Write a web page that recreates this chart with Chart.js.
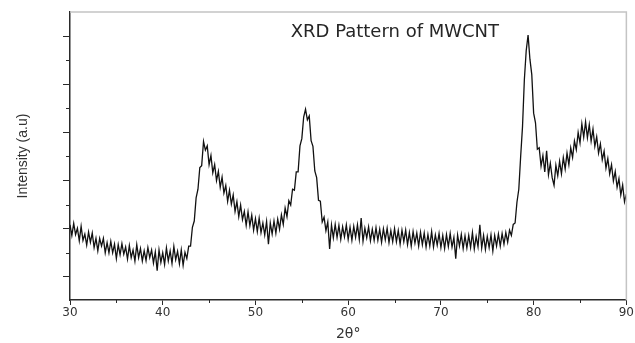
<!DOCTYPE html>
<html>
<head>
<meta charset="utf-8">
<script src="https://cdn.jsdelivr.net/npm/chart.js@4/dist/chart.umd.min.js"></script>
<style>
  html, body { margin: 0; padding: 0; background: #ffffff; }
  #wrap { width: 635px; height: 343px; }
</style>
</head>
<body>
<div id="wrap"><canvas id="c" width="635" height="343"></canvas></div>
<script>
// ---- data ----
const chartTitle = "XRD Pattern of MWCNT";
const xAxisTitle = "2θ°";
const yAxisTitle = "Intensity (a.u)";

// measurement grid: 2θ from 30° to 90° in 0.2° steps
const startAngle = 30;
const angleStep = 0.2;

// intensity (arbitrary units), one value per 0.2° step, 30.0° … 90.0°
const intensity = [
  108,86,111,88,101,75,105,76,89,66,      // 30.0–31.8
  93,72,91,61,80,54,80,64,80,50,          // 32.0–33.8
  71,50,74,50,68,38,67,46,69,47,          // 34.0–35.8
  62,37,65,40,56,33,67,40,59,33,          // 36.0–37.8
  54,34,61,40,56,29,52,13,56,30,          // 38.0–39.8
  50,26,60,33,54,28,63,36,53,27,          // 40.0–41.8
  56,24,51,38,64,64,103,116,164,182,      // 42.0–43.8
  227,231,281,263,272,233,252,216,233,200,// 44.0–45.8
  219,186,207,174,190,157,180,151,170,136,// 46.0–47.8
  156,125,149,119,136,107,135,106,128,97, // 48.0–49.8
  121,94,122,92,112,87,115,68,112,89,     // 50.0–51.8
  116,91,120,99,129,109,143,125,158,149,  // 52.0–53.8
  182,180,218,218,272,287,332,348,326,334,// 54.0–55.8
  283,271,220,206,159,157,114,124,96,114, // 56.0–57.8
  58,108,81,109,82,107,78,104,83,108,     // 58.0–59.8
  78,103,76,105,82,108,78,122,74,101,     // 60.0–61.8
  81,104,75,99,76,102,76,99,72,100,       // 62.0–63.8
  77,101,71,96,73,100,73,96,68,97,        // 64.0–65.8
  73,97,67,92,64,94,70,91,64,93,          // 66.0–67.8
  67,91,62,88,64,94,62,87,66,90,          // 68.0–69.8
  61,86,59,88,63,90,62,82,38,87,          // 70.0–71.8
  64,88,59,85,60,86,61,92,58,84,          // 72.0–73.8
  63,108,60,86,57,84,61,87,54,86,         // 74.0–75.8
  64,89,64,90,68,92,72,97,86,109,         // 76.0–77.8
  112,155,182,250,312,410,470,502,452,420,// 78.0–79.8
  340,320,265,268,230,252,218,262,212,236,// 80.0–81.8
  206,190,232,210,240,214,248,224,257,233,// 82.0–83.8
  268,248,282,264,300,278,318,290,322,289,// 84.0–85.8
  316,282,307,271,291,257,276,243,261,226,// 86.0–87.8
  246,214,233,199,219,186,204,170,191,156,// 88.0–89.8
  172                                      // 90.0
];

// axis ticks
const xMajorTicks = [30, 40, 50, 60, 70, 80, 90];
const xMinorTicks = [35, 45, 55, 65, 75, 85];
const yMajorTicks = [0, 100, 200, 300, 400, 500];
const yMinorTicks = [50, 150, 250, 350, 450];
const xRange = [30, 90];
const yRange = [-48, 550];

// ---- build points ----
const points = intensity.map((v, i) => ({ x: +(startAngle + i * angleStep).toFixed(1), y: v }));

const AXIS_COLOR = '#2a2a2a';
const TEXT_COLOR = '#333333';

const decorPlugin = {
  id: 'decor',
  afterDraw(chart) {
    const { ctx, chartArea: a, scales } = chart;
    ctx.save();
    // light frame on top and right
    ctx.strokeStyle = '#c4c4c4';
    ctx.lineWidth = 1.5;
    ctx.beginPath();
    ctx.moveTo(a.left, a.top);
    ctx.lineTo(a.right, a.top);
    ctx.lineTo(a.right, a.bottom);
    ctx.stroke();
    // minor tick marks
    ctx.strokeStyle = AXIS_COLOR;
    ctx.lineWidth = 1;
    ctx.beginPath();
    xMinorTicks.forEach(v => {
      const px = Math.round(scales.x.getPixelForValue(v)) + 0.5;
      ctx.moveTo(px, a.bottom);
      ctx.lineTo(px, a.bottom + 3);
    });
    yMinorTicks.forEach(v => {
      const py = Math.round(scales.y.getPixelForValue(v)) + 0.5;
      ctx.moveTo(a.left - 4, py);
      ctx.lineTo(a.left, py);
    });
    ctx.stroke();
    // title inside plot
    ctx.fillStyle = '#262626';
    ctx.font = '18px "DejaVu Sans", sans-serif';
    ctx.textAlign = 'center';
    ctx.textBaseline = 'middle';
    const tx = a.left + (a.right - a.left) * 0.584;
    const ty = a.top + (a.bottom - a.top) * 0.07;
    ctx.fillText(chartTitle, tx, ty);
    ctx.restore();
  }
};

new Chart(document.getElementById('c'), {
  type: 'line',
  data: {
    datasets: [{
      data: points,
      borderColor: '#111111',
      borderWidth: 1.3,
      pointRadius: 0,
      tension: 0,
      fill: false
    }]
  },
  options: {
    responsive: false,
    animation: false,
    events: [],
    layout: { padding: { top: 12, right: 8, left: 0, bottom: 0 } },
    plugins: {
      legend: { display: false },
      tooltip: { enabled: false },
      title: { display: false }
    },
    scales: {
      x: {
        type: 'linear',
        min: xRange[0],
        max: xRange[1],
        afterBuildTicks: s => { s.ticks = xMajorTicks.map(v => ({ value: v })); },
        afterFit: s => { s.height = 43; },
        grid: { drawOnChartArea: false, drawTicks: true, tickLength: 5, tickColor: AXIS_COLOR, tickWidth: 1 },
        border: { display: true, color: AXIS_COLOR, width: 1.5 },
        ticks: {
          padding: 1,
          color: TEXT_COLOR,
          font: { family: '"DejaVu Sans", sans-serif', size: 12 },
          maxRotation: 0,
          callback: v => String(v)
        },
        title: {
          display: true,
          text: xAxisTitle,
          color: TEXT_COLOR,
          font: { family: '"DejaVu Sans", sans-serif', size: 14 },
          padding: { top: 0, bottom: 0 }
        }
      },
      y: {
        type: 'linear',
        min: yRange[0],
        max: yRange[1],
        afterBuildTicks: s => { s.ticks = yMajorTicks.map(v => ({ value: v })); },
        afterFit: s => { s.width = 70; },
        grid: { drawOnChartArea: false, drawTicks: true, tickLength: 7, tickColor: AXIS_COLOR, tickWidth: 1 },
        border: { display: true, color: AXIS_COLOR, width: 1.5 },
        ticks: { display: false },
        title: {
          display: true,
          text: yAxisTitle,
          color: TEXT_COLOR,
          font: { family: '"Liberation Sans", Arial, sans-serif', size: 14 },
          padding: { top: 15, bottom: 0 }
        }
      }
    }
  },
  plugins: [decorPlugin]
});
</script>
</body>
</html>
